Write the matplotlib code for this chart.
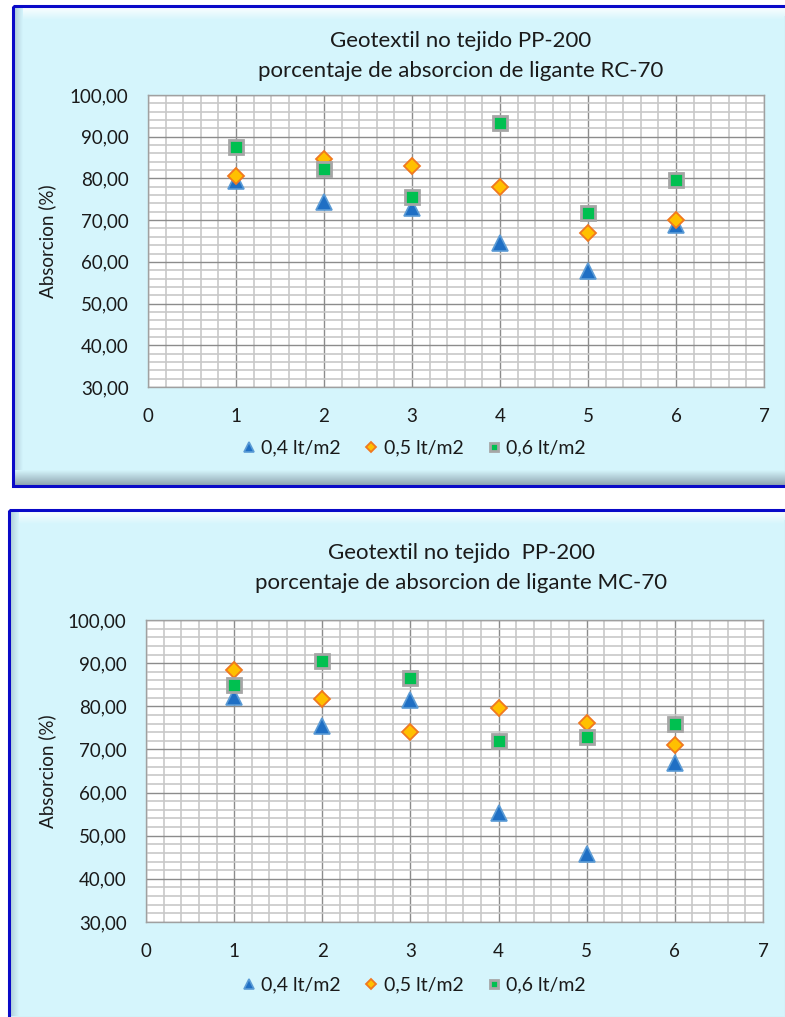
import numpy as np
import matplotlib
matplotlib.use("Agg")
import matplotlib.pyplot as plt
from matplotlib.patches import Rectangle
from matplotlib.ticker import MultipleLocator, FuncFormatter

plt.rcParams['font.family'] = ['Lato', 'DejaVu Sans']

# ---- data -------------------------------------------------------------
ensayos = [1, 2, 3, 4, 5, 6]
series_labels = ["0,4 lt/m2", "0,5 lt/m2", "0,6 lt/m2"]

rc70_04 = [79.5, 74.4, 72.9, 64.5, 57.8, 68.8]
rc70_05 = [80.6, 84.7, 83.0, 78.0, 66.9, 70.1]
rc70_06 = [87.6, 82.2, 75.6, 93.3, 71.7, 79.6]

mc70_04 = [82.2, 75.4, 81.5, 55.3, 45.8, 66.9]
mc70_05 = [88.5, 81.7, 74.0, 79.6, 76.2, 71.0]
mc70_06 = [84.9, 90.5, 86.6, 72.0, 72.9, 75.9]

title_rc = "Geotextil no tejido PP-200\nporcentaje de absorcion de ligante RC-70"
title_mc = "Geotextil no tejido  PP-200\nporcentaje de absorcion de ligante MC-70"
ylabel = "Absorcion (%)"

# ---- figure -----------------------------------------------------------
W, H = 785, 1017
fig = plt.figure(figsize=(W / 100, H / 100), dpi=100)
fig.patch.set_facecolor("white")

bg = fig.add_axes([0, 0, 1, 1], zorder=0)
bg.set_xlim(0, W)
bg.set_ylim(H, 0)
bg.axis("off")

PANEL = np.array([213, 245, 252]) / 255.0
BORDER = "#0a0ac8"


def gradient(ax, x0, x1, y0, y1, c_from, c_to, horizontal):
    n = 64
    t = np.linspace(0, 1, n)
    cols = np.outer(1 - t, c_from) + np.outer(t, c_to)
    if horizontal:
        img = cols[np.newaxis, :, :]
    else:
        img = cols[:, np.newaxis, :]
    ax.imshow(img, extent=(x0, x1, y1, y0), aspect="auto",
              interpolation="bilinear", zorder=1)


def panel(ax, x0, y0, x1, y1):
    ax.add_patch(Rectangle((x0, y0), x1 - x0, y1 - y0, facecolor=PANEL,
                           edgecolor="none", zorder=0.5))
    white = np.array([1.0, 1.0, 1.0])
    shade = np.array([138, 160, 172]) / 255.0
    side = np.array([170, 200, 212]) / 255.0
    # bevel: light top edge, shaded left, bottom and right edges
    gradient(ax, x0, x1, y0, y0 + 14, white, PANEL, horizontal=False)
    gradient(ax, x0, x0 + 10, y0, y1, side, PANEL, horizontal=True)
    gradient(ax, x0, x1, y1 - 16, y1, PANEL, shade, horizontal=False)
    gradient(ax, x1 - 8, x1, y0 + 10, y1 - 16, PANEL, side, horizontal=True)
    ax.add_patch(Rectangle((x0, y0), x1 - x0, y1 - y0, facecolor="none",
                           edgecolor=BORDER, linewidth=2.2, zorder=3))


panel(bg, 13, 6, 792, 486)
panel(bg, 9, 510, 792, 1032)
bg.set_xlim(0, W)
bg.set_ylim(H, 0)


def ax_from_px(left, top, right, bottom):
    return fig.add_axes([left / W, 1 - bottom / H, (right - left) / W,
                         (bottom - top) / H], zorder=2)


fmt = FuncFormatter(lambda v, p: f"{v:.2f}".replace(".", ","))


def draw(ax, s04, s05, s06):
    ax.set_facecolor("white")
    ax.set_xlim(0, 7)
    ax.set_ylim(30, 100)
    ax.xaxis.set_major_locator(MultipleLocator(1))
    ax.xaxis.set_minor_locator(MultipleLocator(0.2))
    ax.yaxis.set_major_locator(MultipleLocator(10))
    ax.yaxis.set_minor_locator(MultipleLocator(2))
    ax.yaxis.set_major_formatter(fmt)
    ax.grid(which="minor", color="#c8c8c8", linewidth=1.2)
    ax.grid(which="major", color="#8c8c8c", linewidth=1.0)
    ax.set_axisbelow(True)
    ax.tick_params(which="both", length=0)
    ax.tick_params(axis="y", pad=14, labelsize=13.5, colors="#1a1a1a")
    ax.tick_params(axis="x", pad=15, labelsize=13.5, colors="#1a1a1a")
    for sp in ax.spines.values():
        sp.set_color("#a0a0a0")
        sp.set_linewidth(1.0)
    h1, = ax.plot(ensayos, s04, linestyle="none", marker="^", markersize=11,
                  markerfacecolor="#1f6fc4", markeredgecolor="#5b9bd5",
                  markeredgewidth=1.2, clip_on=False, zorder=3)
    h2, = ax.plot(ensayos, s05, linestyle="none", marker="D", markersize=8,
                  markerfacecolor="#ffc000", markeredgecolor="#f07820",
                  markeredgewidth=1.3, clip_on=False, zorder=4)
    h3, = ax.plot(ensayos, s06, linestyle="none", marker="s", markersize=9.5,
                  markerfacecolor="#00c050", markeredgecolor="#a6a6a6",
                  markeredgewidth=2.0, clip_on=False, zorder=5)
    return [h1, h2, h3]


ax1 = ax_from_px(148, 95, 764, 387)
hs = draw(ax1, rc70_04, rc70_05, rc70_06)
ax2 = ax_from_px(146, 620, 763, 922)
draw(ax2, mc70_04, mc70_05, mc70_06)

for title, ytitle in ((title_rc, 56), (title_mc, 568)):
    fig.text(461 / W, 1 - ytitle / H, title, ha="center", va="center",
             fontsize=16, color="#1a1a1a", linespacing=1.6)

for yc in ((95 + 387) / 2, (620 + 922) / 2):
    fig.text(47 / W, 1 - yc / H, ylabel, rotation=90, ha="center",
             va="center", fontsize=13.5, color="#1a1a1a")

for yleg in (448, 985):
    fig.legend(hs, series_labels, loc="center", ncol=3, frameon=False,
               bbox_to_anchor=(414 / W, 1 - yleg / H), markerscale=0.65,
               handlelength=0.7, handletextpad=0.3, columnspacing=1.2,
               fontsize=14, labelcolor="#1a1a1a")

fig.savefig("out.png", dpi=100)
